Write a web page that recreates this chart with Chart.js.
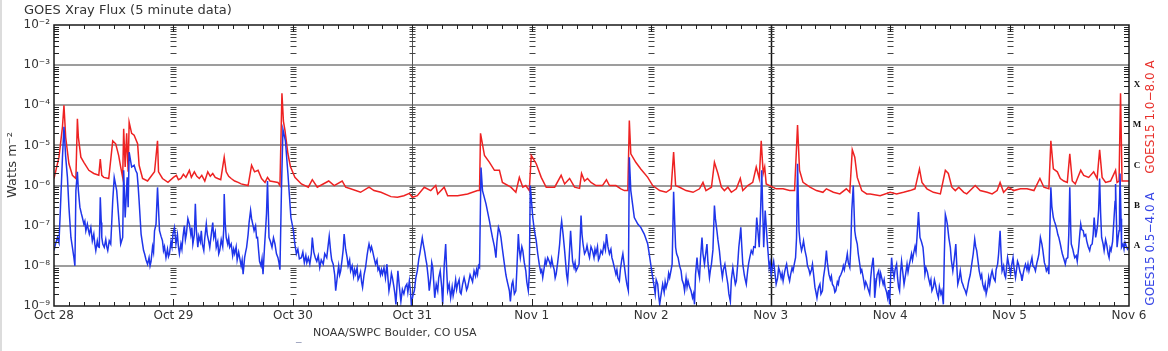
<!DOCTYPE html>
<html>
<head>
<title>GOES Xray Flux</title>
<script src="https://cdn.jsdelivr.net/npm/chart.js"></script>
<style>
  body { margin: 0; background: #fff; }
  canvas { display: block; }
</style>
</head>
<body>
<canvas id="xrayChart" width="1168" height="351"></canvas>
<script>
// hours since Oct 28 00:00 UT, flux in W m^-2
const dayLabels = ['Oct 28', 'Oct 29', 'Oct 30', 'Oct 31', 'Nov 1', 'Nov 2', 'Nov 3', 'Nov 4', 'Nov 5', 'Nov 6'];
const yTickLabels = ['10⁻⁹', '10⁻⁸', '10⁻⁷', '10⁻⁶', '10⁻⁵', '10⁻⁴', '10⁻³', '10⁻²'];
const classLetters = ['A', 'B', 'C', 'M', 'X'];
const classLevels = [3.2e-8, 3.2e-7, 3.2e-6, 3.2e-5, 3.2e-4];

// GOES15 1.0-8.0 A
const longFlux = [
  [0,1.5e-6],[1,5.1e-6],[1.7,2.9e-5],[2,1.0e-4],[2.35,1.6e-5],[3,3.5e-6],[3.7,1.8e-6],[4.4,1.5e-6],[4.7,4.6e-5],[4.9,1.6e-5],
  [5.4,5.1e-6],[6,3.8e-6],[7,2.4e-6],[8,2.0e-6],[9,1.8e-6],[9.3,4.6e-6],[9.6,1.8e-6],[10,1.6e-6],[11,1.5e-6],[11.8,1.3e-5],
  [12.4,1.1e-5],[13,5.6e-6],[13.4,2.9e-6],[13.8,1.6e-6],[14,2.6e-5],[14.3,2.9e-6],[14.6,2.0e-5],[14.9,2.2e-6],[15.1,3.8e-5],[15.6,2.0e-5],
  [16.1,1.8e-5],[16.8,1.1e-5],[17.1,3.2e-6],[17.8,1.5e-6],[18.8,1.3e-6],[20.2,2.2e-6],[20.8,1.3e-5],[21,2.2e-6],[21.8,1.5e-6],[22.9,1.2e-6],
  [24,1.6e-6],[24.6,1.8e-6],[25,1.4e-6],[25.5,1.5e-6],[26,1.9e-6],[26.5,1.6e-6],[27.2,2.4e-6],[27.6,1.6e-6],[28.2,2.2e-6],[28.7,1.7e-6],
  [29.2,1.5e-6],[29.7,1.8e-6],[30.3,1.3e-6],[30.9,2.2e-6],[31.4,1.7e-6],[31.9,2.0e-6],[32.4,1.6e-6],[32.9,1.5e-6],[33.5,1.4e-6],[34.2,5.1e-6],
  [34.6,2.2e-6],[35.1,1.7e-6],[35.6,1.5e-6],[36.3,1.3e-6],[37,1.2e-6],[37.6,1.1e-6],[38.3,1.05e-6],[39,1.0e-6],[39.7,3.2e-6],[40.3,2.2e-6],
  [41,2.4e-6],[41.7,1.5e-6],[42.4,1.2e-6],[42.9,1.6e-6],[43.4,1.3e-6],[44.2,1.25e-6],[45,1.2e-6],[45.4,1.0e-6],[45.8,2.0e-4],[46.1,4.0e-5],
  [46.4,2.4e-5],[47,6.2e-6],[47.5,3.0e-6],[48.4,1.6e-6],[49.7,1.1e-6],[51.1,9.1e-7],[51.9,1.4e-6],[52.9,9.1e-7],[55.2,1.3e-6],[56.3,1.0e-6],
  [57.9,1.3e-6],[58.6,9.1e-7],[59.6,8.3e-7],[61.6,6.8e-7],[63.3,9.1e-7],[64.3,7.5e-7],[65.7,6.8e-7],[67.7,5.3e-7],[69,5.1e-7],[70.3,5.6e-7],
  [71.4,6.4e-7],[72,5.1e-7],[73,5.6e-7],[74.4,9.1e-7],[75.7,7.5e-7],[76.7,1.0e-6],[77.1,6.2e-7],[78.4,9.1e-7],[79.1,5.6e-7],[81.1,5.6e-7],
  [83.1,6.2e-7],[85.1,7.5e-7],[85.5,7.5e-7],[85.7,2.0e-5],[86.5,5.6e-6],[87.5,3.8e-6],[88.5,2.4e-6],[89.5,2.4e-6],[90.1,1.2e-6],[91.8,9.1e-7],
  [92.8,6.8e-7],[93.5,1.6e-6],[94.2,9.1e-7],[94.8,1.0e-6],[95.5,7.5e-7],[95.9,5.6e-6],[96.9,3.5e-6],[97.9,1.6e-6],[98.9,9.1e-7],[100.6,9.1e-7],
  [101.9,1.8e-6],[102.6,1.1e-6],[103.6,1.5e-6],[104.6,9.1e-7],[105.6,8.5e-7],[106,2.0e-6],[106.6,1.3e-6],[107.2,1.5e-6],[107.9,1.2e-6],[108.9,1.0e-6],
  [110.2,1.0e-6],[111,1.4e-6],[111.6,1.0e-6],[112.9,1.0e-6],[113.9,8.3e-7],[114.6,7.5e-7],[115.3,7.5e-7],[115.6,4.2e-5],[115.9,6.2e-6],[116.9,3.8e-6],
  [117.9,2.6e-6],[119.3,1.6e-6],[120.3,1.0e-6],[121.7,7.5e-7],[123,6.8e-7],[124,8.3e-7],[124.5,6.8e-6],[124.9,1.0e-6],[125.7,9.1e-7],[127,7.5e-7],
  [128.4,6.8e-7],[129.7,8.3e-7],[130.4,1.2e-6],[131,7.5e-7],[132.1,9.1e-7],[132.7,3.8e-6],[133.4,2.0e-6],[134.1,9.1e-7],[134.7,7.5e-7],[135.4,9.1e-7],
  [136.1,6.8e-7],[137.1,8.3e-7],[137.9,1.5e-6],[138.4,7.5e-7],[139.4,1.0e-6],[140.4,1.2e-6],[141.1,2.9e-6],[141.7,1.5e-6],[142.1,1.3e-5],[142.5,2.0e-6],
  [142.8,2.9e-6],[143.1,1.1e-6],[143.8,1.0e-6],[145.1,8.3e-7],[146.5,8.3e-7],[147.8,7.5e-7],[148.8,7.5e-7],[149.4,3.2e-5],[149.8,2.4e-6],[150.5,1.2e-6],
  [151.9,9.1e-7],[153.2,7.5e-7],[154.5,6.8e-7],[155.2,8.3e-7],[156.6,6.8e-7],[157.9,6.2e-7],[159.2,8.3e-7],[159.9,6.8e-7],[160.4,7.8e-6],[160.9,5.1e-6],
  [161.4,1.6e-6],[162.3,7.5e-7],[163.3,6.2e-7],[164,6.2e-7],[166,5.6e-7],[168,6.8e-7],[169.3,6.2e-7],[170.7,6.8e-7],[172,7.5e-7],[173,8.3e-7],
  [173.9,2.6e-6],[174.4,1.2e-6],[175.4,8.3e-7],[176.7,6.8e-7],[178.1,6.2e-7],[179.1,2.4e-6],[179.7,2.0e-6],[180.4,9.1e-7],[181.1,7.5e-7],[181.8,9.1e-7],
  [182.8,6.8e-7],[183.4,6.2e-7],[185.1,1.0e-6],[186.1,7.5e-7],[187.5,6.8e-7],[188.5,6.2e-7],[189.5,7.5e-7],[190.1,1.2e-6],[190.8,6.8e-7],[191.8,9.1e-7],
  [192.8,7.5e-7],[194.2,8.3e-7],[195.5,8.3e-7],[196.9,7.5e-7],[198.1,1.5e-6],[198.9,9.1e-7],[199.9,8.3e-7],[200.3,1.3e-5],[200.8,2.6e-6],[201.6,2.2e-6],
  [202.2,1.5e-6],[202.9,1.3e-6],[203.6,1.2e-6],[204.1,6.2e-6],[204.6,1.3e-6],[205.2,1.1e-6],[206.3,2.4e-6],[206.9,1.8e-6],[207.9,1.6e-6],[208.9,2.2e-6],
  [209.6,1.5e-6],[210.1,7.8e-6],[210.6,1.6e-6],[211.3,1.2e-6],[212.3,1.3e-6],[213.3,2.4e-6],[213.6,1.2e-6],[214,1.3e-6],[214.3,2.0e-4],[214.6,1.3e-6],
  [215.3,1.3e-6],[216,1.3e-6]
];

// GOES15 0.5-4.0 A
const shortFlux = [
  [0,2.4e-8],[0.3,3.5e-8],[0.7,5.1e-8],[1,3.8e-8],[1.3,2.9e-7],[1.7,5.1e-6],[2,2.9e-5],[2.35,5.1e-6],[2.7,1.6e-6],[3,2.9e-7],
  [3.4,5.1e-8],[3.7,2.9e-8],[4,1.6e-8],[4.2,1.0e-8],[4.4,7.5e-7],[4.7,2.2e-6],[4.9,7.5e-7],
  [5.2,2.9e-7],[5.5,2.0e-7],[5.7,1.6e-7],[6.0,1.1e-7],[6.2,1.3e-7],[6.4,7.5e-8],[6.7,1.1e-7],[6.9,8.0e-8],[7.1,6.2e-8],[7.4,9.0e-8],
  [7.7,4.2e-8],[8.0,6.2e-8],[8.2,3.5e-8],[8.4,2.4e-8],[8.7,4.2e-8],[8.9,3.0e-8],[9.1,2.9e-8],[9.3,5.1e-7],[9.5,1.2e-7],[9.6,5.1e-8],
  [9.8,3.5e-8],[10.1,2.9e-8],[10.4,4.5e-8],[10.6,3.0e-8],[10.8,2.4e-8],[11.1,4.2e-8],[11.4,3.5e-8],[11.6,1.2e-7],
  [11.8,4.2e-7],[12.1,1.6e-6],[12.6,7.5e-7],[13.1,1.1e-7],[13.4,3.5e-8],[13.8,5.1e-8],[14,2.4e-6],[14.3,1.6e-7],[14.7,1.6e-6],[14.9,2.9e-7],
  [15.1,6.8e-6],[15.6,2.9e-6],[16.1,3.2e-6],[16.4,2.4e-6],[16.7,2.0e-6],[16.9,1.0e-6],[17.1,4.2e-7],
  [17.5,6.2e-8],[17.8,3.5e-8],[18.0,2.4e-8],[18.2,2.0e-8],[18.5,1.4e-8],[18.8,1.1e-8],[19.1,1.6e-8],[19.3,1.0e-8],[19.5,1.3e-8],[19.8,3.0e-8],
  [20.0,2.2e-8],[20.2,7.5e-8],[20.5,1.1e-7],[20.8,9.0e-7],
  [21.2,7.5e-8],[21.5,5.5e-8],[21.8,4.2e-8],[22.0,2.4e-8],[22.2,3.0e-8],[22.5,1.6e-8],[22.8,2.6e-8],[23.0,1.7e-8],[23.2,2.0e-8],[23.5,4.0e-8],
  [23.7,3.0e-8],[23.9,6.2e-8],[24.2,9.0e-8],
  [24.5,3.5e-8],[24.8,6.0e-8],[25.0,3.0e-8],[25.2,2.0e-8],[25.5,3.5e-8],[25.7,2.6e-8],[25.9,5.1e-8],[26.2,1.0e-7],[26.4,4.5e-8],[26.6,6.2e-8],
  [26.9,1.5e-7],[27.2,1.1e-7],[27.5,6.0e-8],[27.7,9.0e-8],[27.9,3.5e-8],[28.2,6.0e-8],[28.4,3.5e-7],[28.6,8.0e-8],[28.9,2.9e-8],[29.1,5.5e-8],
  [29.4,4.0e-8],[29.6,7.5e-8],[29.8,3.5e-8],[30.1,2.4e-8],[30.3,5.0e-8],[30.6,1.1e-7],[30.8,6.0e-8],[31.1,4.0e-8],[31.3,2.9e-8],[31.6,6.0e-8],
  [31.9,1.2e-7],[32.1,5.0e-8],[32.4,7.0e-8],[32.6,2.9e-8],[32.9,4.0e-8],[33.1,2.0e-8],[33.3,2.4e-8],[33.6,4.5e-8],[33.9,3.0e-8],[34.1,8.0e-8],
  [34.2,6.2e-7],[34.4,1.2e-7],[34.6,5.1e-8],[34.9,3.5e-8],[35.1,5.0e-8],[35.3,2.9e-8],[35.6,3.5e-8],[35.9,1.8e-8],[36.1,2.6e-8],[36.3,2.0e-8],
  [36.6,3.0e-8],[36.8,1.4e-8],[37.1,2.2e-8],[37.3,1.6e-8],[37.6,1.0e-8],[37.8,1.4e-8],[38.0,6.2e-9],[38.3,1.6e-8],[38.5,2.2e-8],[38.7,2.9e-8],
  [39.0,6.0e-8],[39.2,1.2e-7],[39.5,2.4e-7],[39.7,1.5e-7],[40.0,1.0e-7],[40.2,7.5e-8],[40.5,1.0e-7],[40.7,5.0e-8],[40.9,5.1e-8],[41.1,2.5e-8],
  [41.3,1.3e-8],[41.6,1.0e-8],[41.8,1.5e-8],[42.0,6.2e-9],[42.3,3.0e-8],[42.5,7.5e-8],[42.7,2.0e-7],[42.9,1.3e-6],[43.1,1.5e-7],[43.2,5.1e-8],
  [43.5,4.0e-8],[43.8,2.9e-8],[44.1,5.0e-8],[44.4,3.5e-8],[44.7,2.0e-8],[45.0,1.6e-8],[45.2,1.2e-8],[45.4,8.0e-9],
  [45.7,7.5e-7],[46,2.5e-5],[46.5,1.3e-5],[47,2.0e-6],[47.6,1.6e-7],
  [48.1,7.5e-8],[48.4,3.5e-8],[48.7,2.0e-8],[49.0,2.6e-8],[49.3,1.5e-8],[49.7,1.6e-8],[50.0,2.2e-8],[50.3,1.2e-8],[50.6,1.8e-8],[50.8,1.2e-8],
  [51.1,1.6e-8],[51.4,1.1e-8],[51.7,2.0e-8],[51.9,5.1e-8],[52.2,2.2e-8],[52.5,1.6e-8],[52.8,1.3e-8],[53.1,1.8e-8],[53.4,9.1e-9],[53.7,1.4e-8],
  [54.1,1.1e-8],[54.4,2.0e-8],[54.8,1.6e-8],[55.0,2.6e-8],[55.3,5.5e-8],[55.6,2.2e-8],[55.8,1.4e-8],[56.1,1.1e-8],[56.4,6.0e-9],[56.6,2.4e-9],
  [56.9,5.0e-9],[57.2,1.0e-8],[57.4,6.0e-9],[57.6,7.5e-9],[57.9,1.5e-8],[58.1,2.5e-8],[58.3,6.2e-8],[58.6,2.6e-8],[58.9,1.6e-8],[59.1,1.0e-8],
  [59.4,1.4e-8],[59.6,7.5e-9],[59.9,1.0e-8],[60.2,5.5e-9],[60.4,8.0e-9],[60.6,6.2e-9],[60.9,9.0e-9],[61.1,4.5e-9],[61.3,5.1e-9],[61.6,7.0e-9],
  [61.8,4.0e-9],[62.0,2.9e-9],[62.3,6.0e-9],[62.6,9.1e-9],[62.9,1.8e-8],[63.1,2.6e-8],[63.3,3.5e-8],[63.6,2.4e-8],[63.8,3.0e-8],[64.0,2.4e-8],
  [64.3,1.6e-8],[64.6,1.1e-8],[64.9,1.4e-8],[65.1,8.0e-9],[65.3,9.1e-9],[65.6,6.0e-9],[65.8,8.0e-9],[66.0,6.2e-9],[66.3,9.0e-9],[66.6,5.0e-9],
  [66.9,1.1e-8],[67.1,5.0e-9],[67.3,2.4e-9],[67.6,4.0e-9],[67.8,6.5e-9],[68.0,5.1e-9],[68.3,3.0e-9],[68.5,2.0e-9],[68.7,1.1e-9],[68.9,3.0e-9],
  [69.1,7.5e-9],[69.4,3.0e-9],[69.7,1.3e-9],[70.0,2.6e-9],[70.3,2.0e-9],[70.6,3.0e-9],[70.9,3.5e-9],[71.1,2.2e-9],[71.4,4.2e-9],[71.6,2.5e-9],
  [71.8,1.1e-9],[72.1,1.8e-9],[72.4,2.4e-9],[72.7,5.0e-9],[73.0,7.5e-9],[73.3,1.5e-8],[73.5,2.0e-8],[73.7,2.9e-8],[74.0,5.0e-8],[74.2,3.5e-8],
  [74.5,2.2e-8],[74.7,1.5e-8],[74.9,1.1e-8],[75.2,5.0e-9],[75.4,2.4e-9],[75.7,5.0e-9],[75.9,1.2e-8],[76.1,9.1e-9],[76.3,4.0e-9],[76.5,1.6e-9],
  [76.8,3.5e-9],[77.1,2.4e-9],[77.3,5.0e-9],[77.6,7.5e-9],[77.9,3.0e-9],[78.1,1.1e-9],[78.4,1.0e-8],[78.7,3.5e-8],[78.9,8.0e-9],[79.1,2.4e-9],
  [79.4,3.5e-9],[79.7,1.6e-9],[80.0,3.0e-9],[80.2,1.8e-9],[80.4,2.4e-9],[80.7,4.5e-9],[80.9,2.6e-9],[81.1,3.5e-9],[81.4,4.5e-9],[81.6,2.2e-9],
  [81.8,2.0e-9],[82.1,3.5e-9],[82.4,5.1e-9],[82.7,3.5e-9],[82.9,2.5e-9],[83.1,2.9e-9],[83.4,4.5e-9],[83.6,6.0e-9],[83.8,5.1e-9],[84.1,4.0e-9],
  [84.4,7.5e-9],[84.7,5.5e-9],[84.9,8.0e-9],[85.1,6.2e-9],[85.3,1.0e-8],[85.5,9.1e-9],
  [85.8,2.8e-6],[86.1,7.5e-7],[86.8,3.5e-7],[87.5,1.3e-7],[87.8,8.0e-8],
  [88.1,5.1e-8],[88.5,3.0e-8],[88.8,1.6e-8],[89.0,4.0e-8],[89.3,9.1e-8],[89.6,7.0e-8],[89.8,5.1e-8],[90.1,2.6e-8],[90.5,1.1e-8],[90.8,6.0e-9],
  [91.0,4.5e-9],[91.2,3.5e-9],[91.5,2.4e-9],[91.7,1.3e-9],[92.0,3.5e-9],[92.2,4.2e-9],[92.5,2.0e-9],[92.8,2.4e-9],[93.0,8.0e-9],[93.3,6.2e-8],
  [93.5,2.5e-8],[93.7,1.6e-8],[94.0,3.0e-8],[94.2,2.4e-8],[94.5,1.2e-8],[94.8,7.5e-9],[95.0,4.0e-9],[95.3,2.4e-9],[95.5,6.0e-9],[95.7,1.0e-6],
  [96.2,1.6e-7],[96.5,8.0e-8],[96.9,4.2e-8],[97.2,2.0e-8],[97.5,1.1e-8],[97.8,7.0e-9],[98.0,8.0e-9],[98.2,5.1e-9],[98.5,9.0e-9],[98.7,1.4e-8],
  [98.9,1.1e-8],[99.2,1.6e-8],[99.5,1.3e-8],[99.8,1.0e-8],[100.0,1.5e-8],[100.2,1.1e-8],[100.5,8.0e-9],[100.7,5.0e-9],[100.9,6.2e-9],[101.2,1.2e-8],
  [101.4,2.0e-8],[101.6,3.5e-8],[101.8,8.0e-8],[102.0,1.3e-7],[102.3,6.0e-8],[102.6,2.4e-8],[102.8,1.2e-8],[103.0,6.0e-9],[103.2,4.2e-9],[103.5,1.5e-8],
  [103.8,7.5e-8],[104.0,3.0e-8],[104.2,1.3e-8],[104.5,9.0e-9],[104.7,1.2e-8],[104.9,7.5e-9],[105.2,9.0e-9],[105.5,1.1e-8],[105.7,4.0e-8],[105.9,1.8e-7],
  [106.1,6.0e-8],[106.3,3.5e-8],[106.6,2.0e-8],[106.9,2.4e-8],[107.1,3.2e-8],[107.4,2.0e-8],[107.6,1.6e-8],[107.9,3.0e-8],[108.2,2.4e-8],[108.5,1.6e-8],
  [108.7,2.6e-8],[108.9,2.0e-8],[109.2,3.0e-8],[109.4,1.4e-8],[109.6,1.6e-8],[109.9,2.4e-8],[110.2,2.0e-8],[110.5,3.5e-8],[110.8,2.5e-8],[111.0,6.2e-8],
  [111.3,3.0e-8],[111.6,2.0e-8],[111.9,2.6e-8],[112.1,1.6e-8],[112.3,1.3e-8],[112.6,9.0e-9],[112.9,6.2e-9],[113.1,8.0e-9],[113.3,5.0e-9],[113.6,4.2e-9],
  [113.8,8.0e-9],[114.1,1.5e-8],[114.3,2.0e-8],[114.6,1.0e-8],[114.9,5.1e-9],[115.1,3.5e-9],[115.4,2.4e-9],[115.6,5.1e-6],
  [115.9,7.5e-7],[116.6,1.6e-7],[117.3,1.1e-7],[117.9,9.1e-8],[118.6,6.2e-8],[119.3,3.5e-8],[119.6,2.0e-8],[120.0,9.0e-9],
  [120.3,5.1e-9],[120.6,3.0e-9],[120.8,2.0e-9],[121.0,4.5e-9],[121.3,3.5e-9],[121.5,1.8e-9],[121.7,1.1e-9],[122.0,2.0e-9],[122.3,3.5e-9],[122.6,2.2e-9],
  [122.8,4.0e-9],[123.0,2.9e-9],[123.3,4.0e-9],[123.5,6.5e-9],[123.7,5.1e-9],[124.0,8.0e-9],[124.2,1.1e-8],[124.5,7.0e-7],
  [124.9,2.9e-8],[125.1,2.0e-8],[125.4,1.6e-8],[125.7,1.0e-8],[126.0,7.5e-9],[126.2,4.5e-9],[126.5,3.5e-9],[126.7,2.4e-9],[127.0,5.0e-9],[127.2,3.0e-9],
  [127.4,4.2e-9],[127.7,3.0e-9],[128.0,2.4e-9],[128.3,1.6e-9],[128.5,2.0e-9],[128.7,1.1e-9],[128.9,6.0e-9],[129.2,1.6e-8],[129.4,8.0e-9],[129.7,5.1e-9],
  [129.9,1.5e-8],[130.2,5.1e-8],[130.4,2.0e-8],[130.7,1.1e-8],[130.9,1.8e-8],[131.2,3.5e-8],[131.4,1.2e-8],[131.7,5.1e-9],[131.9,8.0e-9],[132.1,1.1e-8],
  [132.4,2.5e-8],[132.7,3.2e-7],[132.9,1.5e-7],[133.2,7.5e-8],[133.4,4.5e-8],[133.7,2.4e-8],[134.0,1.0e-8],[134.3,5.1e-9],[134.5,8.0e-9],[134.8,1.1e-8],
  [135.1,6.0e-9],[135.4,3.5e-9],[135.6,2.0e-9],[135.9,1.3e-9],[136.1,4.5e-9],[136.4,9.1e-9],[136.6,6.0e-9],[136.9,3.5e-9],[137.1,4.2e-9],[137.4,1.2e-8],
  [137.6,2.9e-8],[137.8,5.0e-8],[138.0,9.1e-8],[138.2,3.0e-8],[138.4,1.1e-8],[138.7,6.0e-9],[138.9,4.5e-9],[139.1,3.5e-9],[139.4,8.0e-9],[139.6,1.2e-8],
  [139.8,1.6e-8],[140.1,2.4e-8],[140.4,2.0e-8],[140.6,3.0e-8],[140.9,2.9e-8],[141.2,1.6e-7],[141.5,6.0e-8],
  [141.7,2.9e-8],[142,2.9e-7],[142.2,2.4e-6],[142.6,2.9e-8],[142.9,2.4e-7],
  [143.3,4.2e-8],[143.5,2.0e-8],[143.7,9.1e-9],[143.9,1.2e-8],[144.1,6.2e-9],[144.4,1.0e-8],[144.6,1.3e-8],[144.9,6.0e-9],[145.1,3.5e-9],[145.4,5.0e-9],
  [145.6,9.0e-9],[145.8,7.5e-9],[146.1,5.0e-9],[146.3,6.5e-9],[146.5,4.2e-9],[146.8,7.0e-9],[147.0,9.0e-9],[147.2,1.1e-8],[147.5,6.0e-9],[147.8,4.2e-9],
  [148.0,6.0e-9],[148.3,9.0e-9],[148.5,7.5e-9],[148.8,1.2e-8],[149.0,1.6e-8],[149.2,5.0e-8],[149.4,3.5e-6],
  [149.7,7.5e-8],[149.9,4.0e-8],[150.2,2.4e-8],[150.4,3.0e-8],[150.6,4.2e-8],[150.9,2.4e-8],[151.2,1.6e-8],[151.4,1.0e-8],[151.7,8.0e-9],[151.9,6.2e-9],
  [152.2,8.0e-9],[152.4,1.1e-8],[152.7,5.0e-9],[152.9,2.9e-9],[153.1,2.2e-9],[153.3,1.6e-9],[153.6,2.8e-9],[153.9,3.5e-9],[154.1,2.0e-9],[154.4,2.4e-9],
  [154.6,5.0e-9],[154.9,9.1e-9],[155.2,2.4e-8],[155.4,1.2e-8],[155.7,6.2e-9],[156.0,4.5e-9],[156.2,5.5e-9],[156.4,3.5e-9],[156.7,3.0e-9],[156.9,2.2e-9],
  [157.1,2.4e-9],[157.4,4.0e-9],[157.6,3.5e-9],[157.8,5.1e-9],[158.1,6.0e-9],[158.4,7.5e-9],[158.6,1.0e-8],[158.8,8.0e-9],[159.0,1.1e-8],[159.2,1.4e-8],
  [159.4,2.0e-8],[159.6,1.2e-8],[159.9,9.1e-9],[160.1,3.0e-8],[160.3,2.4e-7],[160.6,1.0e-6],
  [160.9,7.5e-8],[161.1,5.0e-8],[161.4,3.5e-8],[161.6,2.0e-8],[161.9,1.1e-8],[162.1,7.0e-9],[162.3,8.0e-9],[162.6,5.1e-9],[162.9,3.0e-9],[163.1,4.0e-9],
  [163.3,3.5e-9],[163.6,2.6e-9],[163.9,2.0e-9],[164.1,5.0e-9],[164.3,9.0e-9],[164.6,1.6e-8],[164.8,5.0e-9],[164.9,1.6e-9],[165.2,4.0e-9],[165.4,6.0e-9],
  [165.7,7.5e-9],[165.9,4.0e-9],[166.1,6.5e-9],[166.3,5.1e-9],[166.6,3.5e-9],[166.8,4.5e-9],[167.0,2.9e-9],[167.3,2.2e-9],[167.5,1.6e-9],[167.7,2.5e-9],
  [167.9,1.1e-9],[168.1,5.0e-9],[168.3,1.6e-8],[168.5,8.0e-9],[168.8,5.1e-9],[169.0,8.0e-9],[169.3,1.1e-8],[169.5,5.0e-9],[169.7,3.0e-9],[169.9,2.4e-9],
  [170.1,7.0e-9],[170.3,1.3e-8],[170.6,6.0e-9],[170.8,3.5e-9],[171.1,6.0e-9],[171.4,1.1e-8],[171.6,7.0e-9],[171.8,1.0e-8],[172.0,1.3e-8],[172.3,2.0e-8],
  [172.5,1.4e-8],[172.7,2.0e-8],[173.0,3.0e-8],[173.2,2.2e-8],[173.4,5.1e-8],[173.7,2.2e-7],
  [174.0,5.1e-8],[174.3,4.0e-8],[174.6,2.9e-8],[174.8,1.5e-8],[175.0,6.2e-9],[175.2,9.0e-9],[175.5,7.0e-9],[175.7,5.1e-9],[176.0,3.5e-9],[176.2,4.5e-9],
  [176.4,2.4e-9],[176.7,3.0e-9],[176.9,4.5e-9],[177.1,3.5e-9],[177.4,2.2e-9],[177.7,1.6e-9],[177.9,3.0e-9],[178.2,2.0e-9],[178.4,2.4e-9],[178.7,1.1e-9],
  [178.9,2.0e-8],[179.1,1.9e-7],[179.3,1.5e-7],[179.5,1.1e-7],[179.8,5.0e-8],[180.1,2.9e-8],[180.3,1.4e-8],[180.6,7.5e-9],[180.9,1.5e-8],[181.2,3.5e-8],
  [181.4,1.0e-8],[181.6,3.5e-9],[181.9,5.0e-9],[182.1,7.5e-9],[182.4,4.0e-9],[182.6,3.5e-9],[182.8,2.9e-9],[183.1,2.4e-9],[183.3,2.0e-9],[183.6,3.0e-9],
  [183.8,4.2e-9],[184.1,6.0e-9],[184.4,1.1e-8],[184.7,2.0e-8],[185.0,4.6e-8],
  [185.2,3.0e-8],[185.4,2.4e-8],[185.7,1.2e-8],[185.9,7.5e-9],[186.2,5.0e-9],[186.4,6.0e-9],[186.6,3.5e-9],[186.9,2.6e-9],[187.1,3.5e-9],[187.3,2.0e-9],
  [187.6,3.0e-9],[187.8,5.1e-9],[188.0,3.5e-9],[188.3,6.0e-9],[188.5,7.5e-9],[188.8,5.0e-9],[189.1,4.2e-9],[189.3,8.0e-9],[189.6,1.1e-8],[189.8,2.0e-8],
  [190.1,7.5e-8],[190.3,2.0e-8],[190.5,7.5e-9],[190.8,1.0e-8],[191.0,6.0e-9],[191.2,5.1e-9],[191.4,9.0e-9],[191.6,1.6e-8],[191.9,1.0e-8],[192.2,6.2e-9],
  [192.4,1.0e-8],[192.7,1.6e-8],[192.9,9.0e-9],[193.2,5.1e-9],[193.4,8.0e-9],[193.6,1.3e-8],[193.8,1.1e-8],[194.1,7.0e-9],[194.3,6.0e-9],[194.5,4.2e-9],
  [194.8,7.0e-9],[195.0,9.0e-9],[195.2,1.1e-8],[195.5,8.0e-9],[195.7,1.1e-8],[195.9,7.5e-9],[196.2,1.1e-8],[196.5,1.6e-8],[196.7,1.0e-8],[197.0,9.0e-9],
  [197.2,7.5e-9],[197.5,1.2e-8],[197.7,1.5e-8],[197.9,2.0e-8],[198.2,5.1e-8],[198.5,3.5e-8],[198.7,2.4e-8],[199.0,1.2e-8],[199.2,1.0e-8],[199.4,7.5e-9],
  [199.7,9.0e-9],[199.9,6.2e-9],[200.3,9.1e-7],
  [200.5,3.0e-7],[200.8,1.6e-7],[201.0,1.3e-7],[201.2,1.1e-7],[201.5,8.0e-8],[201.7,6.0e-8],[201.9,5.1e-8],[202.2,3.5e-8],[202.4,2.6e-8],[202.6,2.0e-8],
  [202.9,1.5e-8],[203.2,1.1e-8],[203.4,1.5e-8],[203.7,1.6e-8],[203.9,6.0e-8],[204.1,9.1e-7],[204.3,8.0e-8],[204.4,3.5e-8],[204.7,2.6e-8],[204.9,2.0e-8],
  [205.1,1.6e-8],[205.4,1.8e-8],[205.6,1.3e-8],[205.9,3.0e-8],[206.1,6.0e-8],[206.3,1.1e-7],[206.5,8.0e-8],[206.8,7.5e-8],[207.0,5.5e-8],[207.3,6.0e-8],
  [207.5,4.2e-8],[207.8,3.0e-8],[208.1,2.4e-8],[208.3,3.2e-8],[208.6,3.5e-8],[208.8,6.0e-8],[209.0,1.6e-7],[209.2,8.0e-8],[209.3,5.1e-8],[209.5,7.0e-8],
  [209.7,1.1e-7],[209.9,2.5e-7],[210.1,1.5e-6],[210.3,2.0e-7],[210.5,5.1e-8],[210.8,3.5e-8],[211.0,2.4e-8],[211.3,4.5e-8],[211.5,3.5e-8],[211.8,2.0e-8],
  [212.0,1.6e-8],[212.2,2.8e-8],[212.4,2.4e-8],[212.7,4.0e-8],[213.0,1.6e-7],[213.2,4.0e-7],[213.3,1.1e-6],[213.5,1.0e-7],[213.6,2.9e-8],[213.8,5.0e-8],
  [214.0,7.5e-8],[214.1,3.0e-7],[214.2,2.0e-6],[214.4,1.5e-7],[214.5,2.9e-8],[214.8,3.5e-8],[215.0,2.6e-8],[215.2,3.8e-8],[215.4,3.2e-8],[215.7,2.6e-8],
  [216.0,2.9e-8]
];

const FONT = 'DejaVu Sans';

function hline(ctx, x1, x2, y) { ctx.beginPath(); ctx.moveTo(x1, y); ctx.lineTo(x2, y); ctx.stroke(); }
function vline(ctx, x, y1, y2) { ctx.beginPath(); ctx.moveTo(x, y1); ctx.lineTo(x, y2); ctx.stroke(); }

// log minor tick values 2..9 x 10^e
function minorValues() {
  const out = [];
  for (let e = -9; e < -2; e++) {
    for (let m = 2; m <= 9; m++) out.push(m * Math.pow(10, e));
  }
  return out;
}

const goesDecor = {
  id: 'goesDecor',
  beforeDatasetsDraw(chart) {
    const { ctx, chartArea: a, scales: { x, y } } = chart;
    ctx.save();
    // decade grid lines
    ctx.strokeStyle = '#7c7c7c';
    ctx.lineWidth = 1.5;
    for (let e = -8; e <= -3; e++) {
      const py = Math.round(y.getPixelForValue(Math.pow(10, e)));
      hline(ctx, a.left, a.right, py);
    }
    // day separators: tick dashes, full line every third day
    const minors = minorValues();
    for (let d = 1; d < dayLabels.length - 1; d++) {
      const px = Math.round(x.getPixelForValue(d * 24)) + 0.5;
      if (d % 3 === 0) {
        ctx.strokeStyle = d === 6 ? '#111' : '#555';
        ctx.lineWidth = d === 6 ? 1.5 : 1;
        vline(ctx, px, a.top, a.bottom);
      }
      ctx.strokeStyle = '#444';
      ctx.lineWidth = 1;
      minors.forEach(v => {
        const py = Math.round(y.getPixelForValue(v)) + 0.5;
        hline(ctx, px - 3, px + 3, py);
      });
    }
    ctx.restore();
  },
  afterDatasetsDraw(chart) {
    const { ctx, chartArea: a, scales: { x, y } } = chart;
    ctx.save();
    ctx.strokeStyle = '#222';
    ctx.lineWidth = 1;
    // y axis minor ticks, left and right
    minorValues().forEach(v => {
      const py = Math.round(y.getPixelForValue(v)) + 0.5;
      hline(ctx, a.left, a.left + 5, py);
      hline(ctx, a.right - 5, a.right, py);
    });
    // x axis ticks every 3 hours, bottom and top
    for (let h = 3; h < 216; h += 3) {
      const px = Math.round(x.getPixelForValue(h)) + 0.5;
      const len = h % 24 === 0 ? 7 : 4;
      vline(ctx, px, a.bottom - len, a.bottom);
      vline(ctx, px, a.top, a.top + len);
    }
    // frame
    ctx.strokeStyle = '#1a1a1a';
    ctx.lineWidth = 1.5;
    ctx.strokeRect(a.left, a.top, a.right - a.left, a.bottom - a.top);
    ctx.restore();
  },
  afterDraw(chart) {
    const { ctx, chartArea: a, scales: { y } } = chart;
    ctx.save();
    // faint page edge
    ctx.fillStyle = '#dcdcdc';
    ctx.fillRect(0, 0, 2, chart.height);

    ctx.fillStyle = '#333';
    ctx.textBaseline = 'middle';
    ctx.textAlign = 'left';
    ctx.font = '13px ' + FONT;
    ctx.fillText('GOES Xray Flux (5 minute data)', 24, 11);

    ctx.font = '11px ' + FONT;
    ctx.fillText('NOAA/SWPC Boulder, CO USA', 313, 333);
    ctx.fillStyle = '#8890b0';
    ctx.fillText('_', 296, 337);

    // y axis title
    ctx.fillStyle = '#333';
    ctx.font = '13px ' + FONT;
    ctx.save();
    ctx.translate(13, 165);
    ctx.rotate(-Math.PI / 2);
    ctx.textAlign = 'center';
    ctx.fillText('Watts m⁻²', 0, 0);
    ctx.restore();

    // flare class letters
    ctx.fillStyle = '#111';
    ctx.font = 'bold 9px "Liberation Serif"';
    ctx.textAlign = 'center';
    classLetters.forEach((c, i) => {
      ctx.fillText(c, a.right + 8, y.getPixelForValue(classLevels[i]));
    });

    // series labels
    ctx.font = '12px ' + FONT;
    [['GOES15 1.0−8.0 A', '#e8302b', 117], ['GOES15 0.5−4.0 A', '#3645e6', 249]].forEach(([t, c, cy]) => {
      ctx.save();
      ctx.translate(1151, cy);
      ctx.rotate(-Math.PI / 2);
      ctx.fillStyle = c;
      ctx.fillText(t, 0, 0);
      ctx.restore();
    });
    ctx.restore();
  }
};

new Chart(document.getElementById('xrayChart').getContext('2d'), {
  type: 'line',
  data: {
    datasets: [
      {
        label: 'GOES15 0.5-4.0 A',
        data: shortFlux.map(p => ({ x: p[0], y: p[1] })),
        borderColor: '#1f35ea',
        borderWidth: 1.5,
        pointRadius: 0,
        tension: 0
      },
      {
        label: 'GOES15 1.0-8.0 A',
        data: longFlux.map(p => ({ x: p[0], y: p[1] })),
        borderColor: '#ee2222',
        borderWidth: 1.5,
        pointRadius: 0,
        tension: 0
      }
    ]
  },
  options: {
    responsive: false,
    animation: false,
    devicePixelRatio: 1,
    layout: { padding: { left: 0, right: 39, top: 25, bottom: 0 } },
    plugins: { legend: { display: false }, tooltip: { enabled: false } },
    scales: {
      x: {
        type: 'linear',
        min: 0,
        max: 216,
        grid: { display: false, drawTicks: false },
        border: { display: false },
        ticks: {
          stepSize: 24,
          autoSkip: false,
          maxRotation: 0,
          padding: 3,
          color: '#333',
          font: { family: FONT, size: 12 },
          callback: v => dayLabels[Math.round(v / 24)]
        },
        afterFit: s => { s.height = 45; }
      },
      y: {
        type: 'logarithmic',
        min: 1e-9,
        max: 1e-2,
        grid: { display: false, drawTicks: false },
        border: { display: false },
        ticks: {
          autoSkip: false,
          padding: 4,
          color: '#333',
          font: { family: FONT, size: 12 },
          callback: v => {
            const e = Math.log10(v);
            const r = Math.round(e);
            return Math.abs(e - r) < 1e-6 ? yTickLabels[r + 9] : null;
          }
        },
        afterFit: s => { s.width = 54; }
      }
    }
  },
  plugins: [goesDecor]
});
</script>
</body>
</html>
